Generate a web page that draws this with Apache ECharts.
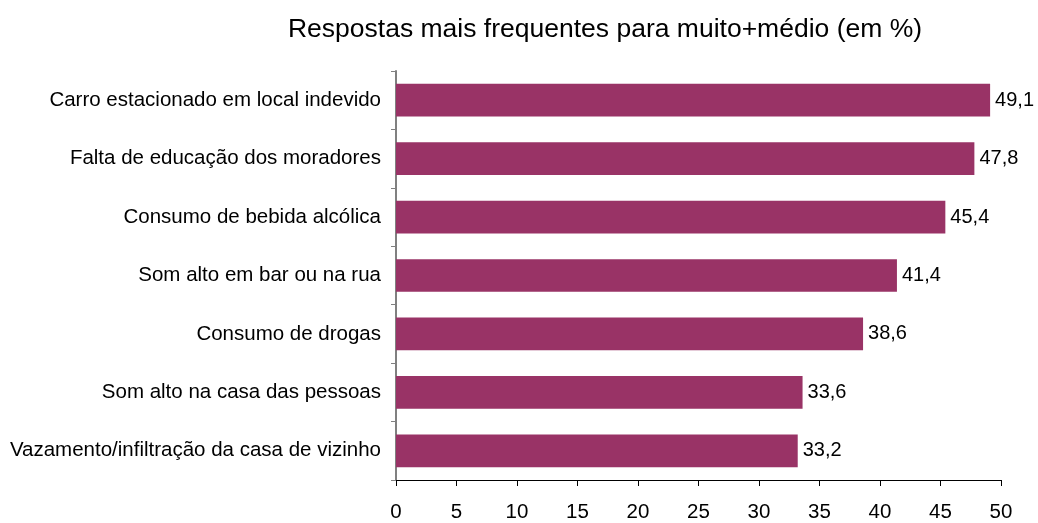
<!DOCTYPE html>
<html>
<head>
<meta charset="utf-8">
<script src="https://cdn.jsdelivr.net/npm/echarts@6/dist/echarts.min.js"></script>
<style>
  html, body { margin: 0; padding: 0; background: #fff; }
  #chart { width: 1038px; height: 523px; }
</style>
</head>
<body>
<div id="chart"></div>
<script>
// categories, top to bottom as in the picture
const categories = [
  'Carro estacionado em local indevido',
  'Falta de educação dos moradores',
  'Consumo de bebida alcólica',
  'Som alto em bar ou na rua',
  'Consumo de drogas',
  'Som alto na casa das pessoas',
  'Vazamento/infiltração da casa de vizinho'
];
const values = [49.1, 47.8, 45.4, 41.4, 38.6, 33.6, 33.2];
const xTicks = [0, 5, 10, 15, 20, 25, 30, 35, 40, 45, 50];

const font = 'Liberation Sans, Arial, sans-serif';

let myChart = echarts.init(document.getElementById('chart'));
myChart.setOption({
  animation: false,
  title: {
    text: 'Respostas mais frequentes para muito+médio (em %)',
    left: 600,
    textAlign: 'center',
    top: 11,
    textStyle: { fontFamily: font, fontSize: 26.5, fontWeight: 'normal', color: '#000' }
  },
  grid: { left: 396, right: 37, top: 71, bottom: 42 },
  xAxis: {
    type: 'value',
    min: xTicks[0],
    max: xTicks[xTicks.length - 1],
    interval: 5,
    axisLine: { show: true, lineStyle: { color: '#000', width: 1 } },
    axisTick: { show: true, length: 6, lineStyle: { color: '#000' } },
    splitLine: { show: false },
    axisLabel: { fontFamily: font, fontSize: 20.5, color: '#000', margin: 22 }
  },
  yAxis: {
    type: 'category',
    data: categories.slice().reverse(),
    axisLine: { show: true, lineStyle: { color: '#808080', width: 2 } },
    axisTick: { show: true, length: 5, lineStyle: { color: '#808080' } },
    axisLabel: { fontFamily: font, fontSize: 20.5, color: '#000', margin: 15 }
  },
  series: [{
    type: 'bar',
    data: values.slice().reverse(),
    barWidth: '56%',
    itemStyle: { color: '#993366' },
    label: {
      show: true,
      position: 'right',
      distance: 5,
      fontFamily: font,
      fontSize: 20,
      color: '#000',
      formatter: p => p.value.toFixed(1).replace('.', ',')
    }
  }]
});
</script>
</body>
</html>
